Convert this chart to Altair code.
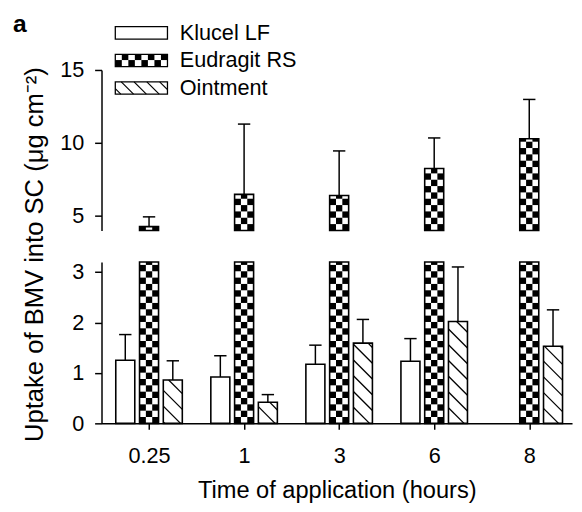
import math
import altair as alt
import pandas as pd

# ---------------- data ----------------
groups = ["0.25", "1", "3", "6", "8"]
series = ["Klucel LF", "Eudragit RS", "Ointment"]
klucel = [1.25, 0.92, 1.17, 1.23, None]
klucel_sd = [0.51, 0.42, 0.38, 0.45, None]
eudragit = [4.26, 6.47, 6.40, 8.25, 10.28]
eudragit_sd = [0.67, 4.82, 3.05, 2.09, 2.70]
ointment = [0.86, 0.42, 1.59, 2.02, 1.53]
ointment_sd = [0.38, 0.15, 0.47, 1.08, 0.72]

values = {"Klucel LF": (klucel, klucel_sd),
          "Eudragit RS": (eudragit, eudragit_sd),
          "Ointment": (ointment, ointment_sd)}
patterns = {"Klucel LF": "plain", "Eudragit RS": "checker", "Ointment": "hatch"}

# ---------------- layout constants ----------------
X_DOM = [-0.5, 4.45]
W = 478
LO_DOM = [0, 3.2]
LO_H = 164
UP_DOM = [4, 15]
UP_H = 163
PX = W / (X_DOM[1] - X_DOM[0])
PY_LO = LO_H / (LO_DOM[1] - LO_DOM[0])
PY_UP = UP_H / (UP_DOM[1] - UP_DOM[0])
BAR_W = 0.2
OFFSETS = {"Klucel LF": -0.25, "Eudragit RS": 0.0, "Ointment": 0.25}
CAP = 0.065
FONT = "Liberation Sans"
SW = 1.6


def checker_cells(x0, x1, y0, y1, py, ncols):
    cw = (x1 - x0) / ncols
    ch = cw * PX / py
    out = []
    nrows = int(math.ceil((y1 - y0) / ch - 1e-9))
    for r in range(nrows):
        cy0 = y0 + r * ch
        cy1 = min(y0 + (r + 1) * ch, y1)
        for c in range(ncols):
            if (r + c) % 2 == 0:
                out.append(dict(x0=x0 + c * cw, x1=x0 + (c + 1) * cw, y0=cy0, y1=cy1))
    return out


def hatch_lines(x0, x1, y0, y1, py, period):
    X0, X1, Y0, Y1 = x0 * PX, x1 * PX, y0 * py, y1 * py
    k = math.ceil((X0 + Y0) / period) * period
    out = []
    while k < X1 + Y1:
        xa = max(X0, k - Y1)
        xb = min(X1, k - Y0)
        if xb > xa:
            out.append(dict(x0=xa / PX, y0=(k - xa) / py, x1=xb / PX, y1=(k - xb) / py))
        k += period
    return out


# ---------------- build tables ----------------
bars_lo, bars_up, cells_lo, cells_up, hatch_lo = [], [], [], [], []
err_lo, err_up = [], []
for s in series:
    vals, sds = values[s]
    for gi, (v, sd) in enumerate(zip(vals, sds)):
        if v is None:
            continue
        cx = gi + OFFSETS[s]
        x0, x1 = cx - BAR_W / 2, cx + BAR_W / 2
        top_lo = min(v, LO_DOM[1])
        bars_lo.append(dict(x0=x0, x1=x1, y0=LO_DOM[0], y1=top_lo, s=s))
        if patterns[s] == "checker":
            cells_lo += checker_cells(x0, x1, LO_DOM[0], top_lo, PY_LO, 3)
        if patterns[s] == "hatch":
            hatch_lo += hatch_lines(x0, x1, LO_DOM[0], top_lo, PY_LO, 16)
        if v + sd <= LO_DOM[1]:
            err_lo.append(dict(x=cx, c0=cx - CAP, c1=cx + CAP, v=v, t=v + sd))
        if v > UP_DOM[0]:
            bars_up.append(dict(x0=x0, x1=x1, y0=UP_DOM[0], y1=v, s=s))
            if patterns[s] == "checker":
                cells_up += checker_cells(x0, x1, UP_DOM[0], v, PY_UP, 3)
            err_up.append(dict(x=cx, c0=cx - CAP, c1=cx + CAP, v=v, t=v + sd))

# legend (pixel offsets relative to upper plot's top-left corner)
def ux(px):
    return X_DOM[0] + px / PX


def uy(py):
    return UP_DOM[1] - py / PY_UP


leg_rows = [-37.7, -9.7, 18.3]
leg_sw, leg_cells, leg_hatch, leg_text = [], [], [], []
for s, r in zip(series, leg_rows):
    x0, x1 = ux(14), ux(67)
    y0, y1 = uy(r + 6.25), uy(r - 6.25)
    leg_sw.append(dict(x0=x0, x1=x1, y0=y0, y1=y1))
    if patterns[s] == "checker":
        leg_cells += checker_cells(x0, x1, y0, y1, PY_UP, 8)
    if patterns[s] == "hatch":
        leg_hatch += hatch_lines(x0, x1, y0, y1, PY_UP, 13)
    leg_text.append(dict(x=ux(79.5), y=uy(r), label=s))
panel_label = pd.DataFrame([dict(x=ux(-83), y=uy(-46.2), label="a")])

# ---------------- encodings ----------------
label_expr = "[" + ",".join("'%s'" % g for g in groups) + "][datum.value]"
xscale = alt.Scale(domain=X_DOM, nice=False, zero=False)
x_axis = alt.Axis(values=list(range(len(groups))), labelExpr=label_expr,
                  title="Time of application (hours)", grid=False, tickSize=6,
                  labelPadding=17, titlePadding=12, labelFlush=False,
                  labelFontSize=22, titleFontSize=24)
lo_scale = alt.Scale(domain=LO_DOM, nice=False, zero=False)
up_scale = alt.Scale(domain=UP_DOM, nice=False, zero=False)
lo_axis = alt.Axis(values=[0, 1, 2, 3], grid=False, tickSize=7, labelPadding=11,
                   labelFontSize=22, title="Uptake of BMV into SC (\u03bcg cm\u207b\u00b2)",
                   titleFontSize=26, titleX=-55, titleY=-8, titleAngle=270,
                   titleAlign="center", titleBaseline="bottom")
up_axis = alt.Axis(values=[5, 10, 15], grid=False, tickSize=7, labelPadding=11,
                   labelFontSize=22, title=None)


def XL(f):
    return alt.X(f, type="quantitative", scale=xscale, axis=x_axis)


def XU(f):
    return alt.X(f, type="quantitative", scale=xscale, axis=None)


def YL(f):
    return alt.Y(f, type="quantitative", scale=lo_scale, axis=lo_axis)


def YU(f):
    return alt.Y(f, type="quantitative", scale=up_scale, axis=up_axis)


def rects(df, X, Y, **kw):
    return alt.Chart(pd.DataFrame(df)).mark_rect(**kw).encode(
        x=X("x0"), x2="x1", y=Y("y0"), y2="y1")


def segs(df, X, Y, **kw):
    return alt.Chart(pd.DataFrame(df)).mark_rule(**kw).encode(
        x=X("x0"), x2="x1", y=Y("y0"), y2="y1")


def errs(df, X, Y):
    d = pd.DataFrame(df)
    stem = alt.Chart(d).mark_rule(color="black", strokeWidth=1.5).encode(
        x=X("x"), y=Y("v"), y2="t")
    cap = alt.Chart(d).mark_rule(color="black", strokeWidth=1.5).encode(
        x=X("c0"), x2="c1", y=Y("t"))
    return [stem, cap]


lower = alt.layer(
    *errs(err_lo, XL, YL),
    rects(bars_lo, XL, YL, fill="white", stroke=None),
    rects(cells_lo, XL, YL, fill="black", stroke=None),
    segs(hatch_lo, XL, YL, color="black", strokeWidth=1.3),
    rects(bars_lo, XL, YL, fill="white", fillOpacity=0, stroke="black", strokeWidth=SW),
).properties(width=W, height=LO_H)

upper = alt.layer(
    *errs(err_up, XU, YU),
    rects(bars_up, XU, YU, fill="white", stroke=None),
    rects(cells_up, XU, YU, fill="black", stroke=None),
    rects(bars_up, XU, YU, fill="white", fillOpacity=0, stroke="black", strokeWidth=SW),
    rects(leg_sw, XU, YU, fill="white", stroke=None),
    rects(leg_cells, XU, YU, fill="black", stroke=None),
    segs(leg_hatch, XU, YU, color="black", strokeWidth=1.2),
    rects(leg_sw, XU, YU, fill="white", fillOpacity=0, stroke="black", strokeWidth=1.3),
    alt.Chart(pd.DataFrame(leg_text)).mark_text(
        align="left", baseline="middle", fontSize=22, font=FONT, color="black").encode(
        x=XU("x"), y=YU("y"), text="label:N"),
    alt.Chart(panel_label).mark_text(
        align="center", baseline="middle", fontSize=25, fontWeight="bold",
        font=FONT, color="black").encode(x=XU("x"), y=YU("y"), text="label:N"),
).properties(width=W, height=UP_H)

chart = alt.vconcat(upper, lower, spacing=32, bounds="flush").properties(
    padding={"left": 5, "top": 0, "right": 2, "bottom": 0}
).configure_view(stroke=None).configure_axis(
    domainColor="black", tickColor="black", labelColor="black", titleColor="black",
    domainWidth=1.5, tickWidth=1.5, labelFont=FONT, titleFont=FONT,
    titleFontWeight="normal"
)

chart.save("out.html", embed_options={"renderer": "svg", "actions": False})
